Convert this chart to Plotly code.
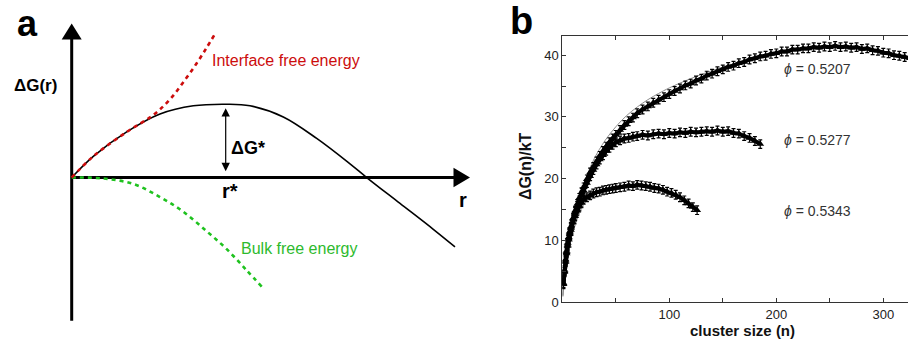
import plotly.graph_objects as go

FONT = "Liberation Sans, Arial, Helvetica, sans-serif"

# ---------------- Panel a: classical nucleation schematic ----------------
# total free energy dG(r)
R_TOTAL = [0, 0.216, 0.55, 0.883, 1.216, 1.55, 1.783, 2.116, 2.45, 2.783, 2.95, 3.283, 3.616, 3.833]
G_TOTAL = [0, 0.217, 0.467, 0.65, 0.734, 0.75, 0.734, 0.62, 0.40, 0.14, 0.0, -0.265, -0.53, -0.71]
# interface (surface) contribution
R_INTERFACE = [0, 0.216, 0.55, 0.816, 0.983, 1.116, 1.25, 1.35, 1.433]
G_INTERFACE = [0, 0.217, 0.467, 0.64, 0.80, 0.975, 1.17, 1.33, 1.47]
# bulk (volume) contribution
R_BULK = [0, 0.316, 0.616, 0.883, 1.116, 1.35, 1.55, 1.75, 1.90]
G_BULK = [0, -0.01, -0.066, -0.20, -0.35, -0.55, -0.733, -0.95, -1.116]

# ---------------- Panel b: measured barriers ----------------
PHI_LABELS = ["0.5207", "0.5277", "0.5343"]
PHI_LABEL_Y = [37.7, 26.3, 14.8]

N_5207 = [1, 2, 3, 4, 5, 6, 7, 8, 10, 12, 14, 16, 18, 20, 23, 26, 29, 32, 35, 38, 41, 44, 47, 50,
          54, 58, 62, 66, 70, 75, 80, 85, 90, 95, 100, 105, 110, 115, 120, 125, 130, 135, 140, 145,
          150, 155, 160, 165, 170, 175, 180, 185, 190, 195, 200, 205, 210, 215, 220, 225, 230, 235,
          240, 245, 250, 255, 260, 265, 270, 275, 280, 285, 290, 295, 300, 305, 310, 315, 320, 325]
G_5207 = [3.1, 5.2, 6.9, 8.3, 9.6, 10.5, 11.4, 12.2, 13.6, 14.8, 15.9, 16.9, 17.8, 18.6,
          19.9, 21.0, 21.9, 22.8, 23.7, 24.5, 25.2, 25.9, 26.5, 27.1,
          27.9, 28.7, 29.3, 29.9, 30.6,
          31.2, 31.7, 32.3, 32.8, 33.2, 33.7, 34.2, 34.6, 35.1, 35.4,
          35.9, 36.2, 36.7, 37.0, 37.4, 37.7, 38.1, 38.3, 38.7, 38.9,
          39.3, 39.5, 39.8, 39.9, 40.2, 40.3, 40.6, 40.6, 40.9, 40.9,
          41.1, 41.1, 41.3, 41.2, 41.4, 41.3, 41.5, 41.3, 41.4, 41.2,
          41.3, 41.0, 41.1, 40.8, 40.7, 40.4, 40.3, 40.0, 39.9, 39.7, 39.5]

N_5277 = [1, 2, 3, 4, 5, 6, 7, 8, 10, 12, 14, 16, 18, 20, 23, 26, 29, 32, 35, 38, 41, 44, 47, 50,
          54, 58, 62, 66, 70, 75, 80, 85, 90, 95, 100, 105, 110, 115, 120, 125, 130, 135, 140, 145,
          150, 155, 160, 165, 170, 175, 180, 185]
G_5277 = [3.0, 5.0, 6.7, 8.1, 9.3, 10.3, 11.2, 12.0, 13.4, 14.6, 15.6, 16.5, 17.3, 18.1,
          19.3, 20.4, 21.4, 22.3, 23.1, 23.8, 24.5, 25.0, 25.5, 25.9,
          26.2, 26.5, 26.6, 26.8, 26.9,
          27.1, 27.0, 27.2, 27.3, 27.2, 27.4, 27.3, 27.5, 27.4, 27.6,
          27.5, 27.6, 27.7, 27.6, 27.8, 27.6, 27.7, 27.4, 27.3, 26.9,
          26.6, 26.1, 25.6]

N_5343 = [1, 2, 3, 4, 5, 6, 7, 8, 10, 12, 14, 16, 18, 20, 23, 26, 29, 32, 35, 38, 41, 44, 47, 50,
          54, 58, 62, 66, 70, 74, 78, 82, 86, 90, 94, 98, 102, 106, 110, 114, 118, 122, 126]
G_5343 = [2.9, 4.9, 6.5, 7.9, 9.1, 10.1, 11.0, 11.7, 12.9, 13.9, 14.8, 15.5, 16.1, 16.6,
          17.0, 17.3, 17.6, 17.8, 17.9, 18.1, 18.2, 18.3, 18.4, 18.5,
          18.6, 18.7, 18.9, 18.8, 19.0,
          18.9, 18.8, 18.7, 18.5, 18.4, 18.2, 17.9, 17.7, 17.4, 17.0, 16.5, 16.0, 15.4, 14.9]

# fitted CNT curves
FIT_N_5207 = [0.5, 1, 2, 3, 5, 7, 10, 15, 20, 25, 30, 40, 50, 60, 70, 80, 90, 100,
              120, 140, 160, 180, 200, 220, 240, 260, 280, 300, 325]
FIT_G_5207 = [1.2, 2.6, 4.9, 6.6, 9.1, 11.0, 13.3, 16.6, 19.2, 21.4, 23.3, 26.2, 28.4, 30.2,
              31.6, 32.8, 33.8, 34.7, 36.2, 37.5, 38.6, 39.5, 40.2, 40.8, 41.2, 41.3, 41.1, 40.6, 39.6]
FIT_N_5277 = [0.5, 1, 2, 3, 5, 7, 10, 15, 20, 25, 30, 40, 50, 60, 70, 80, 100, 120, 140, 160, 170, 180, 186]
FIT_G_5277 = [1.0, 2.3, 4.5, 6.1, 8.4, 10.1, 12.3, 15.4, 17.8, 19.8, 21.5, 23.9, 25.4, 26.3,
              26.9, 27.2, 27.5, 27.7, 27.7, 27.4, 27.0, 26.3, 25.8]
FIT_N_5343 = [0.5, 1, 2, 3, 5, 7, 10, 15, 20, 25, 30, 40, 50, 60, 70, 80, 90, 100, 110, 120, 127]
FIT_G_5343 = [0.9, 2.1, 4.2, 5.6, 7.8, 9.4, 11.3, 14.0, 15.8, 16.9, 17.6, 18.4, 18.8, 19.0,
              19.0, 18.8, 18.4, 17.8, 16.9, 15.7, 14.8]

X_TICKS = [100, 200, 300]
X_MINOR = [50, 150, 250]
Y_TICKS = [0, 10, 20, 30, 40]
Y_MINOR = [5, 15, 25, 35]
ERR = 0.7

W, H = 908, 349
fig = go.Figure()

# ---- panel a traces
fig.add_trace(go.Scatter(x=R_BULK, y=G_BULK, mode="lines", xaxis="x", yaxis="y",
                         line=dict(color="#1fc21f", width=2.6, dash="4px,4px", shape="spline"),
                         hoverinfo="skip"))
fig.add_trace(go.Scatter(x=R_TOTAL, y=G_TOTAL, mode="lines", xaxis="x", yaxis="y",
                         line=dict(color="black", width=1.6, shape="spline", smoothing=1.0),
                         hoverinfo="skip"))
fig.add_trace(go.Scatter(x=R_INTERFACE, y=G_INTERFACE, mode="lines", xaxis="x", yaxis="y",
                         line=dict(color="#cc0c0c", width=2.6, dash="4px,4px", shape="spline"),
                         hoverinfo="skip"))

# ---- panel b traces
for fn, fg in [(FIT_N_5207, FIT_G_5207), (FIT_N_5277, FIT_G_5277), (FIT_N_5343, FIT_G_5343)]:
    fig.add_trace(go.Scatter(x=fn, y=fg, mode="lines", xaxis="x2", yaxis="y2",
                             line=dict(color="#8c8c8c", width=1, shape="spline"), hoverinfo="skip"))
for n, g in [(N_5207, G_5207), (N_5277, G_5277), (N_5343, G_5343)]:
    fig.add_trace(go.Scatter(x=n, y=g, mode="lines+markers", xaxis="x2", yaxis="y2",
                             line=dict(color="black", width=4),
                             marker=dict(symbol="triangle-up", size=7, color="black"),
                             error_y=dict(type="constant", value=ERR, color="black",
                                          thickness=1.2, width=2),
                             hoverinfo="skip"))

# ---- panel a axes drawn as arrows
Y_AX_BOTTOM, Y_AX_TIP = -1.466, 1.577
X_AX_TIP = 3.983
HEAD_LEN, HEAD_HALF = 0.165, 0.10
shapes = [
    dict(type="line", xref="x", yref="y", x0=0, y0=Y_AX_BOTTOM, x1=0, y1=Y_AX_TIP - HEAD_LEN + 0.02,
         line=dict(color="black", width=3), layer="below"),
    dict(type="path", xref="x", yref="y",
         path=f"M {-HEAD_HALF} {Y_AX_TIP - HEAD_LEN} L {HEAD_HALF} {Y_AX_TIP - HEAD_LEN} L 0 {Y_AX_TIP} Z",
         fillcolor="black", line=dict(width=0), layer="below"),
    dict(type="line", xref="x", yref="y", x0=0, y0=0, x1=X_AX_TIP - HEAD_LEN + 0.02, y1=0,
         line=dict(color="black", width=3), layer="below"),
    dict(type="path", xref="x", yref="y",
         path=f"M {X_AX_TIP - HEAD_LEN} {HEAD_HALF} L {X_AX_TIP - HEAD_LEN} {-HEAD_HALF} L {X_AX_TIP} 0 Z",
         fillcolor="black", line=dict(width=0), layer="below"),
]

# barrier location from the total curve
i_star = max(range(len(G_TOTAL)), key=lambda i: G_TOTAL[i])
r_star, g_star = R_TOTAL[i_star], G_TOTAL[i_star]

annotations = [
    dict(x=r_star - 0.01, y=g_star - 0.04, ax=r_star - 0.01, ay=0.05, xref="x", yref="y",
         axref="x", ayref="y", text="", showarrow=True, arrowhead=2, startarrowhead=2,
         arrowside="end+start", arrowsize=1.4, startarrowsize=1.4, arrowwidth=1.2,
         arrowcolor="black"),
    dict(x=r_star + 0.025, y=0.30, xref="x", yref="y", text="<b>ΔG*</b>", showarrow=False,
         xanchor="left", yanchor="middle", font=dict(family=FONT, size=18, color="black")),
    dict(x=r_star + 0.03, y=-0.14, xref="x", yref="y", text="<b>r*</b>", showarrow=False,
         xanchor="center", yanchor="middle", font=dict(family=FONT, size=20, color="black")),
    dict(x=3.916, y=-0.23, xref="x", yref="y", text="<b>r</b>", showarrow=False,
         xanchor="center", yanchor="middle", font=dict(family=FONT, size=20, color="black")),
    dict(x=-0.362, y=0.944, xref="x", yref="y", text="<b>ΔG(r)</b>", showarrow=False,
         xanchor="center", yanchor="middle", font=dict(family=FONT, size=17, color="black")),
    dict(x=1.383, y=1.194, xref="x", yref="y", text="Interface free energy", showarrow=False,
         xanchor="left", yanchor="middle", font=dict(family=FONT, size=16, color="#cc0c0c")),
    dict(x=1.676, y=-0.726, xref="x", yref="y", text="Bulk free energy", showarrow=False,
         xanchor="left", yanchor="middle", font=dict(family=FONT, size=16, color="#2dba2d")),
    dict(x=27 / W, y=1 - 24 / H, xref="paper", yref="paper", text="<b>a</b>", showarrow=False,
         xanchor="center", yanchor="middle", font=dict(family=FONT, size=36, color="black")),
    dict(x=521.7 / W, y=1 - 22 / H, xref="paper", yref="paper", text="<b>b</b>", showarrow=False,
         xanchor="center", yanchor="middle", font=dict(family=FONT, size=38, color="black")),
    dict(x=525 / W, y=1 - 170 / H, xref="paper", yref="paper", text="<b>ΔG(n)/kT</b>",
         textangle=-90, showarrow=False, xanchor="center", yanchor="middle",
         font=dict(family=FONT, size=16, color="#111")),
    dict(x=742 / W, y=1 - 338.5 / H, xref="paper", yref="paper", text="<b>cluster size (n)</b>",
         showarrow=False, xanchor="center", yanchor="middle",
         font=dict(family=FONT, size=15, color="#111")),
]
for lab, yv in zip(PHI_LABELS, PHI_LABEL_Y):
    annotations.append(dict(x=205, y=yv, xref="x2", yref="y2", text=f"<i>ϕ</i> = {lab}",
                            showarrow=False, xanchor="left", yanchor="middle",
                            font=dict(family=FONT, size=14, color="#333")))

axis_common_b = dict(showline=True, linecolor="#333", linewidth=1, ticks="inside", ticklen=4,
                     tickcolor="#333", tickwidth=1, showgrid=False, zeroline=False,
                     tickfont=dict(family=FONT, size=13, color="#222"), fixedrange=True)

fig.update_layout(
    width=W, height=H, margin=dict(l=0, r=0, t=0, b=0),
    paper_bgcolor="white", plot_bgcolor="white", showlegend=False,
    xaxis=dict(domain=[0, 480 / W], range=[-0.717, 4.083], visible=False, fixedrange=True),
    yaxis=dict(domain=[0, 1], range=[-1.673, 1.817], visible=False, fixedrange=True),
    xaxis2=dict(domain=[562.3 / W, 1], range=[0, 323.1], anchor="y2", mirror="ticks",
                tickvals=X_TICKS,
                minor=dict(tickvals=X_MINOR, ticks="inside", ticklen=4, tickcolor="#333"),
                **axis_common_b),
    yaxis2=dict(domain=[(H - 309.3) / H, (H - 37) / H], range=[0, 43.08], anchor="x2",
                tickvals=Y_TICKS,
                minor=dict(tickvals=Y_MINOR, ticks="inside", ticklen=4, tickcolor="#333"),
                **axis_common_b),
    shapes=shapes, annotations=annotations,
)

fig.write_html("out.html")
